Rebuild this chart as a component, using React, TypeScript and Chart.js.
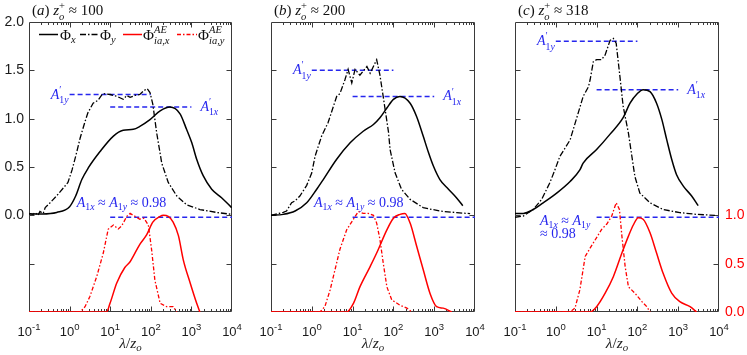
import React, { useEffect, useRef } from 'react';
import { Chart, registerables } from 'chart.js';
Chart.register(...registerables);

// ---------------- data ----------------
// panel (a) z_o^+ ≈ 100
const aPhiXLambda = [0.1, 0.21, 0.48, 1.0, 1.41, 2.0, 2.88, 5.62, 12.0, 20.9, 37.2, 53.7, 95.5, 170, 295, 525, 759, 1023, 1349, 1950, 3162, 5623, 9772];
const aPhiXValue = [0.015, 0.015, 0.03, 0.09, 0.2, 0.37, 0.49, 0.66, 0.82, 0.88, 0.89, 0.92, 0.99, 1.08, 1.12, 1.05, 0.89, 0.75, 0.58, 0.41, 0.27, 0.18, 0.08];
const aPhiYLambda = [0.1, 0.126, 0.141, 0.166, 0.186, 0.224, 0.251, 0.331, 0.525, 0.91, 1.15, 1.45, 1.82, 2.4, 2.82, 3.8, 5.0, 6.6, 10, 14.8, 20.9, 25.7, 30.9, 40.7, 53.7, 67.6, 81.3, 95.5, 112, 140, 186, 269, 437, 759, 1622, 4169, 9772];
const aPhiYValue = [0.02, 0.01, 0.03, 0.0, 0.04, 0.02, 0.08, 0.13, 0.22, 0.34, 0.47, 0.63, 0.8, 0.97, 1.06, 1.16, 1.19, 1.26, 1.25, 1.23, 1.2, 1.24, 1.22, 1.24, 1.25, 1.29, 1.31, 1.27, 1.15, 0.85, 0.54, 0.34, 0.2, 0.11, 0.06, 0.03, 0.01];
const aAeXLambda = [0.1, 8.1, 9.9, 14.5, 22.9, 30.9, 36.3, 53.7, 79.4, 112, 170, 204, 269, 355, 479, 631, 933, 1349, 1622];
const aAeXValue = [0, 0, 0.09, 0.3, 0.46, 0.52, 0.57, 0.7, 0.8, 0.93, 0.99, 1.0, 0.99, 0.93, 0.79, 0.54, 0.3, 0.09, 0];
const aAeYLambda = [0.1, 1.82, 2.4, 3.16, 4.68, 6.76, 8.91, 12.0, 15.8, 19.1, 25.7, 30.9, 40.7, 53.7, 67.6, 87.1, 105, 126, 170, 245, 355, 437];
const aAeYValue = [0, 0, 0.055, 0.16, 0.37, 0.61, 0.855, 0.9, 0.86, 0.89, 0.99, 1.02, 0.99, 0.96, 0.97, 0.9, 0.64, 0.33, 0.09, 0.055, 0.055, 0];

// panel (b) z_o^+ ≈ 200
const bPhiXLambda = [0.1, 0.2, 0.39, 0.75, 1.32, 1.91, 4.07, 8.71, 18.2, 32.4, 46.8, 69.2, 100, 145, 257, 372, 537, 724, 955, 1380, 2239, 3548, 5012];
const bPhiXValue = [0.0, 0.01, 0.045, 0.13, 0.27, 0.37, 0.58, 0.75, 0.87, 0.94, 1.01, 1.11, 1.2, 1.23, 1.16, 1.02, 0.82, 0.65, 0.51, 0.37, 0.27, 0.18, 0.1];
const bPhiYLambda = [0.1, 0.2, 0.24, 0.32, 0.39, 0.51, 0.75, 1.0, 1.2, 1.74, 2.51, 4.07, 4.9, 6.46, 7.76, 9.55, 11.5, 15.1, 22.4, 26.9, 38.9, 46.8, 56.2, 75.9, 83, 110, 158, 257, 537, 1380, 3548, 7586];
const bPhiYValue = [0.0, 0.03, 0.045, 0.13, 0.15, 0.2, 0.31, 0.44, 0.61, 0.82, 0.96, 1.23, 1.26, 1.4, 1.51, 1.37, 1.51, 1.45, 1.54, 1.47, 1.61, 1.45, 1.23, 0.86, 0.68, 0.44, 0.27, 0.165, 0.08, 0.044, 0.028, 0.018];
const bAeXLambda = [0.1, 7.16, 10.5, 15.1, 26.9, 38.9, 69.2, 100, 145, 191, 257, 372, 537, 794, 1148, 1660, 2692];
const bAeXValue = [0, 0, 0.09, 0.26, 0.47, 0.61, 0.85, 0.97, 1.01, 1.02, 0.92, 0.68, 0.44, 0.19, 0.055, 0.04, 0];
const bAeYLambda = [0.1, 1.58, 2.09, 2.82, 3.72, 4.9, 7.16, 10.5, 13.8, 18.2, 24, 32.4, 38.9, 46.8, 56.2, 69.2, 91.2, 145, 214, 282];
const bAeYValue = [0, 0, 0.055, 0.23, 0.44, 0.65, 0.85, 0.96, 1.04, 1.02, 1.02, 1.0, 0.92, 0.75, 0.51, 0.26, 0.125, 0.07, 0.04, 0];

// panel (c) z_o^+ ≈ 318
const cPhiXLambda = [0.1, 0.16, 0.28, 0.49, 1.05, 2.24, 3.89, 4.68, 10, 21.4, 44.7, 66, 100, 138, 204, 295, 398, 525, 692, 912, 1349, 2138, 3090];
const cPhiXValue = [0.02, 0.02, 0.06, 0.13, 0.23, 0.35, 0.47, 0.54, 0.68, 0.84, 1.01, 1.16, 1.26, 1.3, 1.28, 1.16, 0.99, 0.78, 0.58, 0.42, 0.3, 0.2, 0.1];
const cPhiYLambda = [0.1, 0.16, 0.28, 0.45, 0.72, 0.95, 1.26, 2.24, 3.55, 4.68, 6.31, 6.92, 8.32, 10, 13.3, 16.2, 21.4, 25.7, 30.2, 37.2, 44.7, 60.3, 79.4, 87, 115, 204, 427, 1096, 2818, 7943];
const cPhiYValue = [-0.02, -0.007, 0.06, 0.165, 0.34, 0.47, 0.61, 0.78, 1.06, 1.23, 1.33, 1.4, 1.59, 1.61, 1.61, 1.66, 1.81, 1.83, 1.78, 1.44, 1.13, 0.85, 0.51, 0.4, 0.23, 0.13, 0.06, 0.028, 0.01, 0.0];
const cAeXLambda = [0.1, 6.92, 10, 16.2, 25.7, 41.7, 60.3, 79.4, 105, 138, 204, 295, 427, 692, 1096, 1950, 2818];
const cAeXValue = [0, 0, 0.055, 0.195, 0.365, 0.61, 0.785, 0.9, 0.975, 0.96, 0.82, 0.61, 0.4, 0.195, 0.107, 0.055, 0];
const cAeYLambda = [0.1, 2.24, 2.95, 3.89, 5.25, 6.92, 10, 13.3, 17.8, 23.4, 30.2, 36.3, 41.7, 50.1, 60.3, 87.1, 129, 170, 204];
const cAeYValue = [0, 0, 0.04, 0.23, 0.575, 0.66, 0.77, 0.855, 0.91, 0.99, 1.13, 1.06, 0.785, 0.47, 0.26, 0.195, 0.107, 0.055, 0];

// blue reference lines (A'_1y, A'_1x on left axis; A_1 on right axis)
const primeYLambda = [1, 100];
const primeXLambda = [10, 1000];
const a1Lambda = [10, 10000];
const aPrimeY = [1.25, 1.25];
const aPrimeX = [1.12, 1.12];
const bPrimeY = [1.5, 1.5];
const bPrimeX = [1.23, 1.23];
const cPrimeY = [1.8, 1.8];
const cPrimeX = [1.3, 1.3];
const a1Value = [0.98, 0.98];

// axes
const xTickExponents = [-1, 0, 1, 2, 3, 4];
const yTickValues = [-1, -0.5, 0, 0.5, 1, 1.5, 2];
const rightTickValues = [0, 0.5, 1];
const zPlus = ['100', '200', '318'];
const panelLetters = ['a', 'b', 'c'];

// ---------------- rich text helpers ----------------
type Run = [string, boolean];
type Item = { t: Run[]; sup?: Run[]; sub?: Run[] };
const SERIF = '"Liberation Serif", "DejaVu Serif", serif';
const SANS = '"Liberation Sans", Arial, sans-serif';
const BLUE = '#2626ee';
const RED = '#ff0000';

function fnt(size: number, it: boolean) {
  return `${it ? 'italic ' : ''}${size}px ${SERIF}`;
}
function runsW(ctx: CanvasRenderingContext2D, runs: Run[], size: number) {
  let w = 0;
  for (const [s, it] of runs) {
    ctx.font = fnt(size, it);
    w += ctx.measureText(s).width;
  }
  return w;
}
function drawRuns(ctx: CanvasRenderingContext2D, runs: Run[], x: number, y: number, size: number) {
  for (const [s, it] of runs) {
    ctx.font = fnt(size, it);
    ctx.fillText(s, x, y);
    x += ctx.measureText(s).width;
  }
  return x;
}
function richW(ctx: CanvasRenderingContext2D, items: Item[], size: number) {
  let w = 0;
  const ss = size * 0.7;
  for (const it of items) {
    w += runsW(ctx, it.t, size);
    w += Math.max(it.sup ? runsW(ctx, it.sup, ss) : 0, it.sub ? runsW(ctx, it.sub, ss) : 0);
  }
  return w;
}
function drawRich(ctx: CanvasRenderingContext2D, items: Item[], x: number, y: number, size: number, color: string, align: 'left' | 'center' | 'right' = 'left') {
  ctx.save();
  ctx.fillStyle = color;
  ctx.textBaseline = 'alphabetic';
  ctx.textAlign = 'left';
  const w = richW(ctx, items, size);
  if (align === 'center') x -= w / 2;
  else if (align === 'right') x -= w;
  const ss = size * 0.7;
  for (const it of items) {
    x = drawRuns(ctx, it.t, x, y, size);
    let adv = 0;
    if (it.sup) {
      drawRuns(ctx, it.sup, x, y - size * (it.sub ? 0.42 : 0.38), ss);
      adv = Math.max(adv, runsW(ctx, it.sup, ss));
    }
    if (it.sub) {
      drawRuns(ctx, it.sub, x, y + size * (it.sup ? 0.3 : 0.22), ss);
      adv = Math.max(adv, runsW(ctx, it.sub, ss));
    }
    x += adv;
  }
  ctx.restore();
}

const primeYText: Item[] = [{ t: [['A', true]], sup: [['′', false]], sub: [['1', false], ['y', true]] }];
const primeXText: Item[] = [{ t: [['A', true]], sup: [['′', false]], sub: [['1', false], ['x', true]] }];
const a1Full: Item[] = [
  { t: [['A', true]], sub: [['1', false], ['x', true]] },
  { t: [[' ≈ ', false], ['A', true]], sub: [['1', false], ['y', true]] },
  { t: [[' ≈ 0.98', false]] },
];
const a1Line1: Item[] = [
  { t: [['A', true]], sub: [['1', false], ['x', true]] },
  { t: [[' ≈ ', false], ['A', true]], sub: [['1', false], ['y', true]] },
];
const a1Line2: Item[] = [{ t: [['≈ 0.98', false]] }];

const legendItems: { color: string; dash: number[]; text: Item[] }[] = [
  { color: '#000', dash: [], text: [{ t: [['Φ', false]], sub: [['x', true]] }] },
  { color: '#000', dash: [6, 2, 1.5, 2], text: [{ t: [['Φ', false]], sub: [['y', true]] }] },
  { color: RED, dash: [], text: [{ t: [['Φ', false]], sup: [['AE', true]], sub: [['ia', true], [',', false], ['x', true]] }] },
  { color: RED, dash: [4, 2, 1.5, 2], text: [{ t: [['Φ', false]], sup: [['AE', true]], sub: [['ia', true], [',', false], ['y', true]] }] },
];

// ---------------- panels ----------------
type Panel = {
  idx: number;
  left: number;
  width: number;
  yW: number;
  y2W: number;
  padRight: number;
  phiX: [number[], number[]];
  phiY: [number[], number[]];
  aeX: [number[], number[]];
  aeY: [number[], number[]];
  primeY: number[];
  primeX: number[];
  a1Label: { lambda: number; r: number; twoLines: boolean };
};

const PANELS: Panel[] = [
  {
    idx: 0, left: 0, width: 245, yW: 29, y2W: 0, padRight: 13,
    phiX: [aPhiXLambda, aPhiXValue], phiY: [aPhiYLambda, aPhiYValue],
    aeX: [aAeXLambda, aAeXValue], aeY: [aAeYLambda, aAeYValue],
    primeY: aPrimeY, primeX: aPrimeX,
    a1Label: { lambda: 1.5, r: 1.09, twoLines: false },
  },
  {
    idx: 1, left: 245, width: 245, yW: 26, y2W: 0, padRight: 15,
    phiX: [bPhiXLambda, bPhiXValue], phiY: [bPhiYLambda, bPhiYValue],
    aeX: [bAeXLambda, bAeXValue], aeY: [bAeYLambda, bAeYValue],
    primeY: bPrimeY, primeX: bPrimeX,
    a1Label: { lambda: 1.13, r: 1.09, twoLines: false },
  },
  {
    idx: 2, left: 490, width: 257, yW: 25, y2W: 28, padRight: 0,
    phiX: [cPhiXLambda, cPhiXValue], phiY: [cPhiYLambda, cPhiYValue],
    aeX: [cAeXLambda, cAeXValue], aeY: [cAeYLambda, cAeYValue],
    primeY: cPrimeY, primeX: cPrimeX,
    a1Label: { lambda: 0.41, r: 0.9, twoLines: true },
  },
];

const pts = (xs: number[], ys: number[]) => xs.map((x, i) => ({ x, y: ys[i] }));

function decorPlugin(p: Panel) {
  return {
    id: 'decor' + p.idx,
    beforeDatasetsDraw(chart: any) {
      const ctx: CanvasRenderingContext2D = chart.ctx;
      const a = chart.chartArea;
      const xs = chart.scales.x;
      const ys = chart.scales.y;
      const L = Math.round(a.left) + 0.5;
      const R = Math.round(a.right) - 0.5;
      const T = Math.round(a.top) + 0.5;
      const B = Math.round(a.bottom) - 0.5;
      ctx.save();
      ctx.strokeStyle = '#3a3a3a';
      ctx.lineWidth = 1;
      ctx.beginPath();
      ctx.rect(L, T, R - L, B - T);
      for (const v of yTickValues) {
        if (v <= -1 || v >= 2) continue;
        const py = Math.round(ys.getPixelForValue(v)) + 0.5;
        ctx.moveTo(L, py); ctx.lineTo(L + 5, py);
        ctx.moveTo(R, py); ctx.lineTo(R - 5, py);
      }
      for (const e of xTickExponents) {
        const base = Math.pow(10, e);
        if (e > -1 && e < 4) {
          const px = Math.round(xs.getPixelForValue(base)) + 0.5;
          ctx.moveTo(px, B); ctx.lineTo(px, B - 5);
          ctx.moveTo(px, T); ctx.lineTo(px, T + 5);
        }
        if (e < 4) {
          for (let k = 2; k <= 9; k++) {
            const px = Math.round(xs.getPixelForValue(k * base)) + 0.5;
            ctx.moveTo(px, B); ctx.lineTo(px, B - 2.5);
            ctx.moveTo(px, T); ctx.lineTo(px, T + 2.5);
          }
        }
      }
      ctx.stroke();
      ctx.restore();
    },
    afterDatasetsDraw(chart: any) {
      const ctx: CanvasRenderingContext2D = chart.ctx;
      const a = chart.chartArea;
      const xs = chart.scales.x;
      const ys = chart.scales.y;
      const y2 = chart.scales.y2;
      ctx.save();
      ctx.fillStyle = '#1a1a1a';
      ctx.textBaseline = 'alphabetic';
      ctx.textAlign = 'left';
      for (const e of xTickExponents) {
        const px = xs.getPixelForValue(Math.pow(10, e));
        ctx.font = `13px ${SANS}`;
        const w1 = ctx.measureText('10').width;
        ctx.font = `9.5px ${SANS}`;
        const w2 = ctx.measureText(String(e)).width;
        const x0 = px - (w1 + w2) / 2;
        const by = a.bottom + 23.5;
        ctx.font = `13px ${SANS}`;
        ctx.fillText('10', x0, by);
        ctx.font = `9.5px ${SANS}`;
        ctx.fillText(String(e), x0 + w1, by - 5.5);
      }
      ctx.restore();
      drawRich(ctx, [{ t: [['λ', true], ['/', false], ['z', true]], sub: [['o', true]] }], (a.left + a.right) / 2, a.bottom + 36, 15.5, '#222', 'center');
      drawRich(ctx, [
        { t: [['(', false], [panelLetters[p.idx], true], [') ', false], ['z', true]], sup: [['+', false]], sub: [['o', true]] },
        { t: [[' ≈ ' + zPlus[p.idx], false]] },
      ], a.left + 3, 15, 15, '#111', 'left');
      const pyY = ys.getPixelForValue(p.primeY[0]);
      drawRich(ctx, primeYText, xs.getPixelForValue(primeYLambda[0]) - 1, pyY + 4, 14, BLUE, 'right');
      const pyX = ys.getPixelForValue(p.primeX[0]);
      drawRich(ctx, primeXText, xs.getPixelForValue(primeXLambda[1]) + 9, pyX + 4, 14, BLUE, 'left');
      const lx = xs.getPixelForValue(p.a1Label.lambda);
      const ly = y2.getPixelForValue(p.a1Label.r);
      if (p.a1Label.twoLines) {
        drawRich(ctx, a1Line1, lx, ly, 14, BLUE, 'left');
        drawRich(ctx, a1Line2, lx, ly + 13, 14, BLUE, 'left');
      } else {
        drawRich(ctx, a1Full, lx, ly, 14, BLUE, 'left');
      }
      if (p.idx === 0) {
        const ly0 = a.top + 12.5;
        const offs = [[10, 29, 31], [51, 69, 71], [94, 113, 114], [148, 168, 169]];
        legendItems.forEach((li, i) => {
          const [s, e, t] = offs[i];
          ctx.save();
          ctx.strokeStyle = li.color;
          ctx.lineWidth = 1.5;
          ctx.setLineDash(li.dash);
          ctx.beginPath();
          ctx.moveTo(a.left + s, ly0);
          ctx.lineTo(a.left + e, ly0);
          ctx.stroke();
          ctx.restore();
          drawRich(ctx, li.text, a.left + t, ly0 + 5, 15, '#111', 'left');
        });
      }
    },
  };
}

function buildConfig(p: Panel): any {
  const showRight = p.y2W > 0;
  return {
    type: 'line',
    data: {
      datasets: [
        { label: 'Φx', data: pts(p.phiX[0], p.phiX[1]), borderColor: '#000', borderWidth: 1.5, yAxisID: 'y', cubicInterpolationMode: 'monotone' },
        { label: 'Φy', data: pts(p.phiY[0], p.phiY[1]), borderColor: '#000', borderWidth: 1.3, borderDash: [6, 2, 1.5, 2], yAxisID: 'y' },
        { label: 'ΦAE ia,x', data: pts(p.aeX[0], p.aeX[1]), borderColor: RED, borderWidth: 1.5, yAxisID: 'y2', cubicInterpolationMode: 'monotone' },
        { label: 'ΦAE ia,y', data: pts(p.aeY[0], p.aeY[1]), borderColor: RED, borderWidth: 1.3, borderDash: [4, 2, 1.5, 2], yAxisID: 'y2' },
        { label: "A'1y", data: pts(primeYLambda, p.primeY), borderColor: BLUE, borderWidth: 1.5, borderDash: [5, 3], yAxisID: 'y' },
        { label: "A'1x", data: pts(primeXLambda, p.primeX), borderColor: BLUE, borderWidth: 1.5, borderDash: [5, 3], yAxisID: 'y' },
        { label: 'A1', data: pts(a1Lambda, a1Value), borderColor: BLUE, borderWidth: 1.5, borderDash: [5, 3], yAxisID: 'y2' },
      ],
    },
    options: {
      animation: false,
      responsive: false,
      maintainAspectRatio: false,
      devicePixelRatio: 1,
      layout: { padding: { top: 22, right: p.padRight, left: 0, bottom: 0 } },
      elements: { point: { radius: 0 }, line: { fill: false } },
      plugins: { legend: { display: false }, tooltip: { enabled: false }, title: { display: false } },
      scales: {
        x: {
          type: 'logarithmic', min: 0.1, max: 10000,
          ticks: { display: false }, grid: { display: false, drawTicks: false }, border: { display: false },
          afterFit: (s: any) => { s.height = 43; },
        },
        y: {
          type: 'linear', position: 'left', min: -1, max: 2,
          grid: { display: false, drawTicks: false }, border: { display: false },
          ticks: {
            display: p.idx === 0, padding: 5, color: '#1a1a1a',
            font: { family: SANS, size: 14 },
            callback: (v: number) => (v >= 0 ? v.toFixed(1) : ''),
          },
          afterBuildTicks: (s: any) => { s.ticks = yTickValues.map((v) => ({ value: v })); },
          afterFit: (s: any) => { s.width = p.yW; },
        },
        y2: {
          type: 'linear', position: 'right', min: 0, max: 3, display: showRight,
          grid: { display: false, drawTicks: false }, border: { display: false },
          ticks: {
            padding: 6, color: RED, font: { family: SANS, size: 14 },
            callback: (v: number) => v.toFixed(1),
          },
          afterBuildTicks: (s: any) => { s.ticks = rightTickValues.map((v) => ({ value: v })); },
          afterFit: (s: any) => { s.width = p.y2W; },
        },
      },
    },
    plugins: [decorPlugin(p)],
  };
}

function PanelChart({ panel }: { panel: Panel }) {
  const ref = useRef<HTMLCanvasElement>(null);
  useEffect(() => {
    const chart = new Chart(ref.current as HTMLCanvasElement, buildConfig(panel));
    return () => chart.destroy();
  }, [panel]);
  return (
    <canvas
      ref={ref}
      width={panel.width}
      height={355}
      style={{ position: 'absolute', left: panel.left, top: 0, width: panel.width, height: 355, display: 'block' }}
    />
  );
}

export default function App() {
  return (
    <div style={{ position: 'absolute', left: 0, top: 0, width: 747, height: 355, background: '#fff', overflow: 'hidden' }}>
      {PANELS.map((p) => (
        <PanelChart key={p.idx} panel={p} />
      ))}
    </div>
  );
}
